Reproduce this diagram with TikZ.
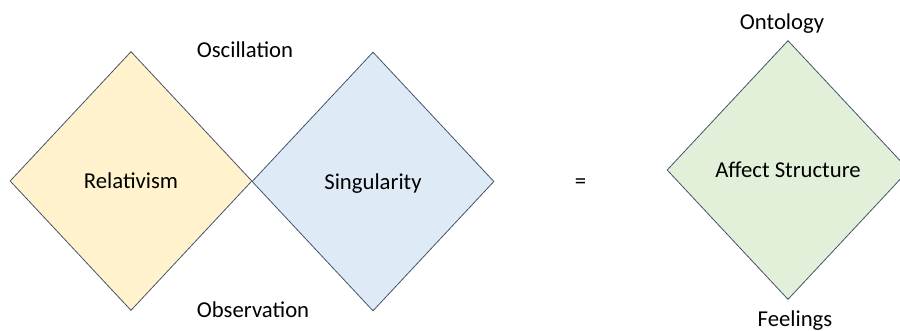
\documentclass[tikz,border=0pt]{standalone}
\usepackage{fontspec}
\setmainfont{Carlito}
\usetikzlibrary{shapes.geometric}

\definecolor{edgeslate}{HTML}{44546A}
\definecolor{relfill}{HTML}{FFF2CC}
\definecolor{singfill}{HTML}{DEEBF7}
\definecolor{affectfill}{HTML}{E2F0D9}

\tikzset{
  rhombus/.style={diamond, draw=edgeslate, line width=0.8pt, inner sep=0pt,
    text depth=0pt, minimum width=242pt, minimum height=259pt},
  word/.style={inner sep=0pt, anchor=base},
}

\begin{document}
\begin{tikzpicture}[x=1pt, y=-1pt, font=\fontsize{22.7}{27}\selectfont]
  \useasboundingbox (0,0) rectangle (900,330);
  \node[rhombus, fill=relfill] (rel) at (131,181) {Relativism};
  \node[rhombus, fill=singfill] (sing) at (373,181.5) {Singularity};
  \node[rhombus, fill=affectfill] (affect) at (788,170) {Affect Structure};
  \node[word] (osc) at (245,57) {Oscillation};
  \node[word] (obs) at (253,317) {Observation};
  \node[word] (equals) at (580.5,188) {=};
  \node[word] (onto) at (782,29.5) {Ontology};
  \node[word] (feel) at (795,326) {Feelings};
\end{tikzpicture}
\end{document}
